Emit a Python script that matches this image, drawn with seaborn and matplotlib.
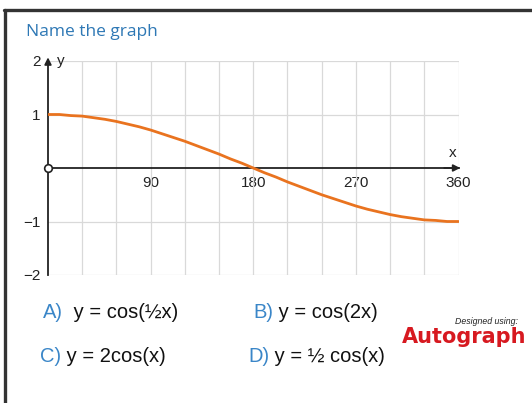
import matplotlib
matplotlib.use('Agg')
import matplotlib.pyplot as plt
import seaborn as sns
import pandas as pd
from matplotlib.lines import Line2D

# curve values (degrees, y)
x_deg = [0, 10, 20, 30, 40, 50, 60, 70, 80, 90, 100, 110, 120, 130, 140, 150, 160, 170, 180,
         190, 200, 210, 220, 230, 240, 250, 260, 270, 280, 290, 300, 310, 320, 330, 340, 350, 360]
y_val = [1.00, 1.00, 0.98, 0.97, 0.94, 0.91, 0.87, 0.82, 0.77, 0.71, 0.64, 0.57, 0.50,
         0.42, 0.34, 0.26, 0.17, 0.09, 0.00, -0.09, -0.17, -0.26, -0.34, -0.42, -0.50,
         -0.57, -0.64, -0.71, -0.77, -0.82, -0.87, -0.91, -0.94, -0.97, -0.98, -1.00, -1.00]

x_ticks = [0, 30, 60, 90, 120, 150, 180, 210, 240, 270, 300, 330, 360]
x_labels = ['', '', '', '90', '', '', '180', '', '', '270', '', '', '360']
y_ticks = [-2, -1, 0, 1, 2]
y_labels = ['\u22122', '\u22121', '', '1', '2']

options = [('A)', ' y = cos(\u00bdx)'), ('B)', ' y = cos(2x)'),
           ('C)', ' y = 2cos(x)'), ('D)', ' y = \u00bd cos(x)')]

sns.set_style('white')
plt.rcParams['font.family'] = ['Liberation Sans', 'DejaVu Sans']

W, H = 532, 403
fig = plt.figure(figsize=(W / 100, H / 100), dpi=100)


def fx(px):
    return px / W


def fy(py):
    return 1 - py / H


ax = fig.add_axes([fx(48), fy(275), fx(458.5) - fx(48), fy(61) - fy(275)])
df = pd.DataFrame({'x': x_deg, 'y': y_val})
sns.lineplot(data=df, x='x', y='y', ax=ax, color='#E9731F', linewidth=2.0, zorder=4)
ax.lines[-1].set_solid_joinstyle('round')

ax.set_xlim(0, 360)
ax.set_ylim(-2, 2)
ax.set_xticks(x_ticks)
ax.set_xticklabels(x_labels)
ax.set_yticks(y_ticks)
ax.set_yticklabels(y_labels)
ax.set_xlabel('')
ax.set_ylabel('')

# light grid
for xv in x_ticks[1:]:
    ax.axvline(xv, color='#d9d9d9', lw=0.9, zorder=1)
for yv in [-2, -1, 1, 2]:
    ax.axhline(yv, color='#d9d9d9', lw=0.9, zorder=1)

for side in ['top', 'right']:
    ax.spines[side].set_visible(False)
ax.spines['bottom'].set_position(('data', 0))
ax.spines['left'].set_position(('data', 0))
ax.spines['bottom'].set_color('#222222')
ax.spines['left'].set_color('#222222')
ax.spines['bottom'].set_linewidth(1.3)
ax.spines['left'].set_linewidth(1.3)
ax.tick_params(axis='both', direction='inout', length=5, width=1, color='#222222',
               labelsize=11, labelcolor='#222222')
ax.tick_params(axis='x', pad=3)
ax.tick_params(axis='y', pad=3)

# arrowheads
ax.annotate('', xy=(364, 0), xytext=(345, 0),
            arrowprops=dict(arrowstyle='-|>', color='#222222', lw=1.3, mutation_scale=10),
            annotation_clip=False)
ax.annotate('', xy=(0, 2.12), xytext=(0, 1.9),
            arrowprops=dict(arrowstyle='-|>', color='#222222', lw=1.3, mutation_scale=10),
            annotation_clip=False)
ax.text(355, 0.28, 'x', fontsize=11, color='#222222', ha='center', va='center')
ax.text(8, 2.0, 'y', fontsize=11, color='#222222', ha='left', va='center')
ax.plot([0], [0], marker='o', ms=5.5, mfc='white', mec='#222222', mew=1.2,
        clip_on=False, zorder=5)

# slide frame (top and left edges)
fig.add_artist(Line2D([fx(4), 1], [fy(10), fy(10)], color='#333333', lw=2.4))
fig.add_artist(Line2D([fx(5), fx(5)], [fy(10), 0], color='#333333', lw=2.4))

fig.text(fx(26), fy(32), 'Name the graph', fontsize=12.5, color='#2E78B5',
         family=['Open Sans'], ha='left', va='center')

# answer options
pos = [(43, 312), (253, 312), (40, 357), (248, 357)]
for (lab, expr), (px, py) in zip(options, pos):
    t = fig.text(fx(px), fy(py), lab, fontsize=14.5, color='#3A86C8', ha='left', va='center')
    fig.canvas.draw()
    bb = t.get_window_extent()
    gap = 5 if lab == 'A)' else 0
    fig.text((bb.x1 + gap) / W, fy(py), expr, fontsize=14.5, color='#111111',
             ha='left', va='center')

# logo
fig.text(fx(518), fy(322), 'Designed using:', fontsize=6.3, style='italic',
         color='#222222', ha='right', va='center')
fig.text(fx(526), fy(337), 'Autograph', fontsize=15, weight='bold',
         color='#D71920', family=['DejaVu Sans'], ha='right', va='center')

fig.savefig('out.png', dpi=100)
